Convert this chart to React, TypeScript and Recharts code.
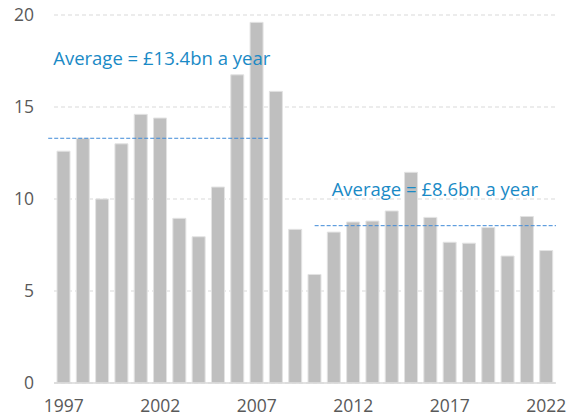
import { BarChart, Bar, XAxis, YAxis, CartesianGrid, ReferenceLine } from 'recharts';

const years = [
  '1997', '1998', '1999', '2000', '2001', '2002', '2003', '2004', '2005', '2006', '2007', '2008', '2009',
  '2010', '2011', '2012', '2013', '2014', '2015', '2016', '2017', '2018', '2019', '2020', '2021', '2022',
];
const values = [
  12.6, 13.3, 10.0, 13.0, 14.6, 14.4, 8.95, 7.95, 10.65, 16.75, 19.6, 15.85, 8.35,
  5.9, 8.2, 8.75, 8.8, 9.35, 11.45, 9.0, 7.65, 7.6, 8.45, 6.9, 9.05, 7.2,
];
const yTicks = [0, 5, 10, 15, 20];
const xTicks = ['1997', '2002', '2007', '2012', '2017', '2022'];

// the two period averages, drawn as dashed segments
const averages = [
  { label: 'Average = £13.4bn a year', value: 13.3, from: 1996.2, to: 2007.6, labelDy: -73, labelDx: 5 },
  { label: 'Average = £8.6bn a year', value: 8.55, from: 2010, to: 2022.5, labelDy: -30, labelDx: 17 },
];

const data = years.map((y, i) => ({ year: y, yearNum: Number(y), value: values[i] }));

const font = '"Open Sans", sans-serif';

export default function App() {
  return (
    <div style={{ position: 'absolute', left: 0, top: 0, background: '#fff' }}>
      <BarChart width={580} height={417} data={data} margin={{ top: 15, right: 24, left: 0, bottom: 0 }}>
        <CartesianGrid vertical={false} stroke="#d9d9d9" strokeDasharray="4 3" />
        <XAxis
          dataKey="year"
          ticks={xTicks}
          interval={0}
          height={34}
          axisLine={{ stroke: '#d9d9d9', strokeWidth: 1.5 }}
          tickLine={false}
          tickMargin={11}
          tick={{ fontSize: 17.5, fill: '#595959', fontFamily: font }}
        />
        <XAxis
          xAxisId="yr"
          dataKey="yearNum"
          type="number"
          domain={[1996.5, 2022.5]}
          allowDataOverflow
          hide
        />
        <YAxis
          width={54}
          domain={[0, 20]}
          ticks={yTicks}
          axisLine={false}
          tickLine={false}
          tickMargin={14}
          tick={{ fontSize: 17.5, fill: '#595959', fontFamily: font }}
        />
        <Bar dataKey="value" barSize={13} fill="#bfbfbf" stroke="#e3e3e3" strokeWidth={1} isAnimationActive={false} />
        {averages.map(a => (
          <ReferenceLine
            key={a.label}
            xAxisId="yr"
            segment={[{ x: a.from, y: a.value }, { x: a.to, y: a.value }]}
            stroke="#3f8ad8"
            strokeWidth={1}
            strokeDasharray="4 2"
            ifOverflow="visible"
            label={(props: any) => {
              const vb = props.viewBox || {};
              return (
                <text
                  x={vb.x + a.labelDx}
                  y={vb.y + a.labelDy}
                  fill="#1a8ac6"
                  fontSize={18.5}
                  fontFamily={font}
                >
                  {a.label}
                </text>
              );
            }}
          />
        ))}
      </BarChart>
    </div>
  );
}
